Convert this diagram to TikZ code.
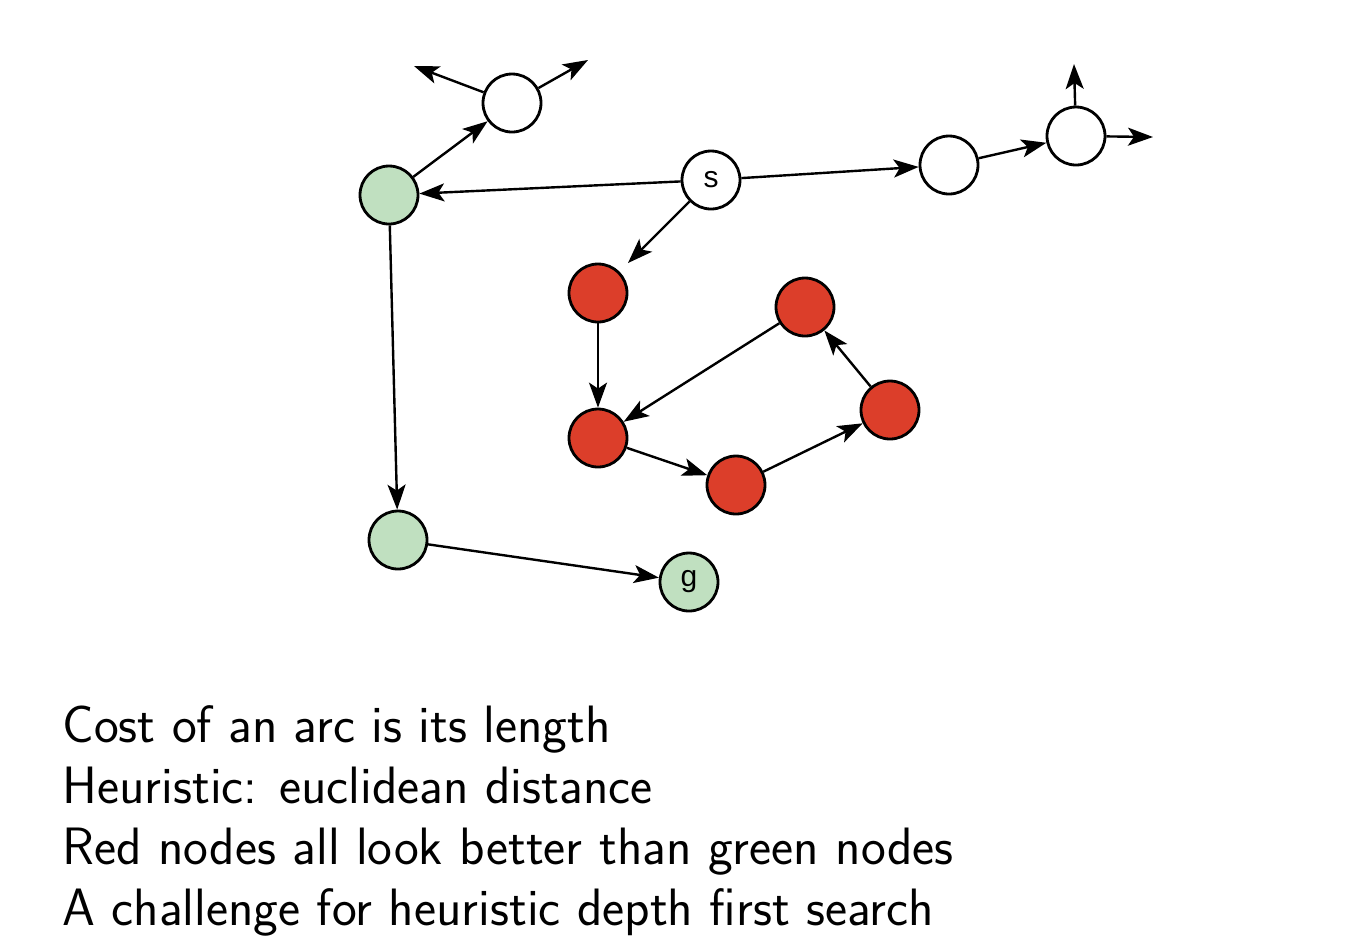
\documentclass[tikz,border=0pt]{standalone}
\usepackage{fontspec}
\newfontfamily\labelfont{Liberation Sans}
\usetikzlibrary{arrows.meta}
\definecolor{nodered}{RGB}{220,62,42}
\definecolor{nodegreen}{RGB}{192,224,192}
\begin{document}
\begin{tikzpicture}[x=0.5pt,y=-0.5pt,
    arrow/.style = {line width=1.2pt,-{Stealth[length=12.5pt,width=9pt,inset=3pt]}},
    state/.style = {circle,draw,line width=1.4pt,minimum size=29pt,inner sep=0pt,
                    fill=white,font=\labelfont\fontsize{15}{15}\selectfont},
    red/.style = {state,fill=nodered},
    green/.style = {state,fill=nodegreen},
    line/.style = {anchor=base west,inner sep=0pt,font=\sffamily\fontsize{26.3}{31}\selectfont}]
                \useasboundingbox (0,0) rectangle (1372,950);

                \node[state] (s)  at (711,180) {s};
                \node[green] (g1) at (389,195) {};
                \node[state] (w1) at (512,103) {};
                \node[state] (w2) at (949,165) {};
                \node[state] (w3) at (1076,136) {};
                \node[red] (r1) at (598,293) {};
                \node[red] (r2) at (598,438) {};
                \node[red] (r3) at (736,485) {};
                \node[red] (r4) at (890,410) {};
                \node[red] (r5) at (805,307) {};
                \node[green] (g2) at (398,540) {};
                \node[green] (g)  at (689,582) {g};

                \coordinate (w1l) at (414,66);
                \coordinate (w1r) at (588,60);
                \coordinate (w3u) at (1074,64);
                \coordinate (w3r) at (1153,137);

                \draw[arrow] (s) -- (g1);
                \draw[arrow] (s) -- (w2);
                \draw[arrow] (w2) -- (w3);
                \draw[arrow] (w3) -- (w3u);
                \draw[arrow] (w3) -- (w3r);
                \draw[arrow] (g1) -- (w1);
                \draw[arrow] (w1) -- (w1l);
                \draw[arrow] (w1) -- (w1r);
                \draw[arrow,shorten >=6pt] (s) -- (r1);
                \draw[arrow] (r1) -- (r2);
                \draw[arrow] (r2) -- (r3);
                \draw[arrow] (r3) -- (r4);
                \draw[arrow] (r4) -- (r5);
                \draw[arrow] (r5) -- (r2);
                \draw[arrow] (g1) -- (g2);
                \draw[arrow] (g2) -- (g);

                \node[line] (t1) at (62,742) {Cost of an arc is its length};
                \node[line] (t2) at (62,803) {Heuristic: euclidean distance};
                \node[line] (t3) at (62,864) {Red nodes all look better than green nodes};
                \node[line] (t4) at (62,925) {A challenge for heuristic depth first search};
            \end{tikzpicture}
\end{document}
